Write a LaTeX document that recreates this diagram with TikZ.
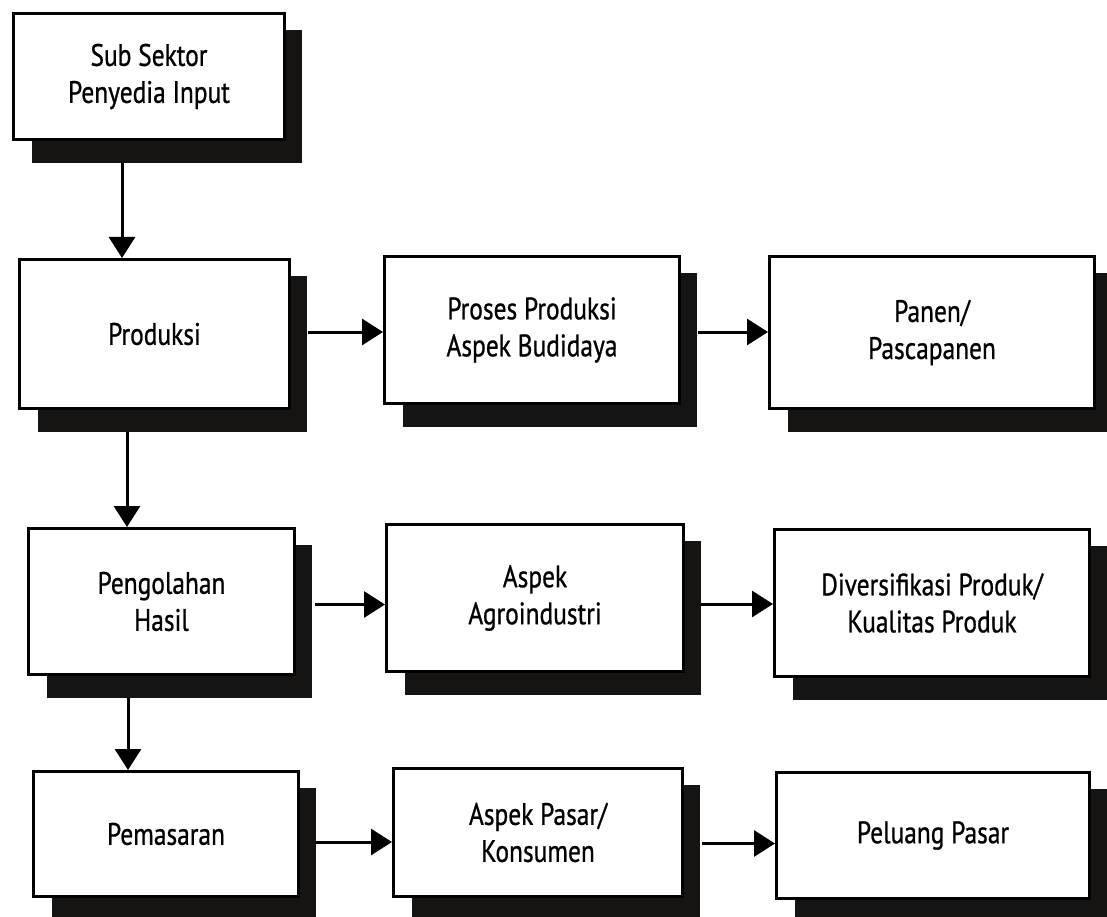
\documentclass[tikz,border=0pt]{standalone}
\usepackage{fontspec}
\setmainfont[FakeStretch=0.82,FakeBold=0.8]{PT Sans}
\usetikzlibrary{arrows.meta,backgrounds,calc}
\definecolor{shadowcol}{RGB}{22,20,18}
\begin{document}
\begin{tikzpicture}[x=1pt,y=-1pt,
  box/.style={draw=black, line width=3pt, fill=white, anchor=north west, align=center,
    inner sep=0pt, font=\fontsize{31}{37}\selectfont},
  arr/.style={line width=3pt, -{Triangle[length=21pt,width=26pt]}},
  boxshadow/.style={fill=shadowcol},
]
\useasboundingbox (0,0) rectangle (1107,917);
\node[box, minimum width=271pt, minimum height=126pt] (A) at (12,12) {Sub Sektor\\Penyedia Input};
\node[box, minimum width=270pt, minimum height=149pt] (B) at (18,258) {Produksi};
\node[box, minimum width=295pt, minimum height=147pt] (C) at (383,255) {Proses Produksi\\Aspek Budidaya};
\node[box, minimum width=325pt, minimum height=152pt] (D) at (768,255) {Panen/\\Pascapanen};
\node[box, minimum width=266pt, minimum height=146pt] (E) at (27,527) {Pengolahan\\Hasil};
\node[box, minimum width=297pt, minimum height=147pt] (F) at (385,523) {Aspek\\Agroindustri};
\node[box, minimum width=315pt, minimum height=147pt] (G) at (773,528) {Diversifikasi Produk/\\Kualitas Produk};
\node[box, minimum width=265pt, minimum height=125pt] (H) at (32,770) {Pemasaran};
\node[box, minimum width=289pt, minimum height=128pt] (I) at (392,767) {Aspek Pasar/\\Konsumen};
\node[box, minimum width=313pt, minimum height=126pt] (J) at (775,771) {Peluang Pasar};

\begin{scope}[on background layer]
  \fill[white] (0,0) rectangle (1107,917);
  \foreach \n in {A,B,C,D,E,F,G,H,I,J}
    \path[boxshadow] ($(\n.north west)+(20,18)$) rectangle ($(\n.south east)+(16,22)$);
\end{scope}

% vertical connectors
\coordinate (v1) at ($(A.south west)+(110,22)$);
\coordinate (v2) at ($(B.south west)+(109,22)$);
\coordinate (v3) at ($(E.south west)+(101,22)$);
\draw[arr] (v1) -- (v1 |- B.north);
\draw[arr] (v2) -- (v2 |- E.north);
\draw[arr] (v3) -- (v3 |- H.north);

% horizontal connectors
\coordinate (h1) at ($(B.east)+(17,-2)$);
\coordinate (h2) at ($(C.east)+(17,2)$);
\coordinate (h3) at ($(E.east)+(19,3)$);
\coordinate (h4) at ($(F.east)+(16,6)$);
\coordinate (h5) at ($(H.east)+(16,8)$);
\coordinate (h6) at ($(I.east)+(18,11)$);
\draw[arr] (h1) -- (h1 -| C.west);
\draw[arr] (h2) -- (h2 -| D.west);
\draw[arr] (h3) -- (h3 -| F.west);
\draw[arr] (h4) -- (h4 -| G.west);
\draw[arr] (h5) -- (h5 -| I.west);
\draw[arr] (h6) -- (h6 -| J.west);
\end{tikzpicture}
\end{document}
